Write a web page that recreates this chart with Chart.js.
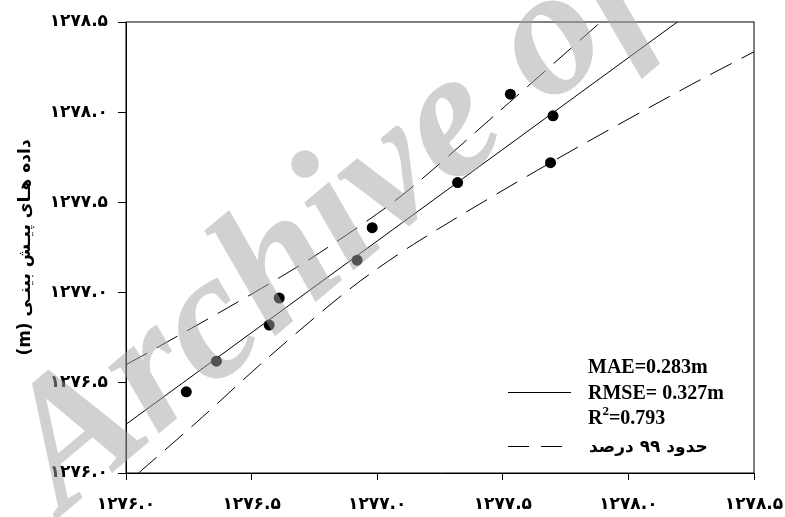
<!DOCTYPE html>
<html>
<head>
<meta charset="utf-8">
<script src="https://cdn.jsdelivr.net/npm/chart.js@4/dist/chart.umd.min.js"></script>
<style>
  html, body { margin: 0; padding: 0; background: #fff; }
</style>
</head>
<body>
<canvas id="fitChart" width="785" height="517" dir="rtl"></canvas>
<script>
// observed vs predicted values (m)
const observed  = [1276.24, 1276.36, 1276.57, 1276.61, 1276.92, 1276.98, 1277.32, 1277.53, 1277.70, 1277.69];
const predicted = [1276.45, 1276.62, 1276.82, 1276.97, 1277.18, 1277.36, 1277.61, 1278.10, 1277.98, 1277.72];

// regression line
const fitX = [1276.0, 1278.5];
const fitY = [1276.27, 1278.81];

// 99% band
const upperX = [1276.0, 1276.13, 1276.51, 1276.77, 1277.09, 1277.49, 1277.89];
const upperY = [1276.60, 1276.70, 1277.00, 1277.22, 1277.53, 1278.01, 1278.50];
const lowerX = [1276.05, 1276.28, 1276.57, 1276.90, 1277.17, 1277.69, 1278.22, 1278.5];
const lowerY = [1276.0, 1276.28, 1276.645, 1277.03, 1277.29, 1277.72, 1278.13, 1278.335];

const statLines = ['MAE=0.283m', 'RMSE= 0.327m', '=0.793'];
const bandLabel = 'حدود ۹۹ درصد';
const yTitle = 'داده هـای پیـش بینـی (m)';

const pairs = (xs, ys) => xs.map((x, i) => ({ x: x, y: ys[i] }));

const faDigits = '۰۱۲۳۴۵۶۷۸۹';
function toPersian(v) {
    return v.toFixed(1).replace(/[0-9]/g, d => faDigits[+d]);
}

const frameAndLegend = {
    id: 'frameAndLegend',
    afterDraw(chart) {
        const ctx = chart.ctx;
        const a = chart.chartArea;
        ctx.save();
        ctx.strokeStyle = '#000';
        ctx.lineWidth = 1;
        ctx.strokeRect(a.left, a.top, a.right - a.left, a.bottom - a.top);

        // legend block
        ctx.direction = 'ltr';
        ctx.fillStyle = '#000';
        ctx.textAlign = 'left';
        ctx.textBaseline = 'alphabetic';
        ctx.font = 'bold 20px "Liberation Serif"';
        ctx.fillText(statLines[0], 588, 373);
        ctx.fillText(statLines[1], 588, 399);
        ctx.fillText('R', 588, 424);
        const rw = ctx.measureText('R').width;
        ctx.font = 'bold 13px "Liberation Serif"';
        ctx.fillText('2', 588 + rw, 415);
        const sw = ctx.measureText('2').width;
        ctx.font = 'bold 20px "Liberation Serif"';
        ctx.fillText(statLines[2], 588 + rw + sw, 424);

        ctx.beginPath();
        ctx.moveTo(508, 392.5);
        ctx.lineTo(571, 392.5);
        ctx.stroke();
        ctx.setLineDash([21, 12]);
        ctx.beginPath();
        ctx.moveTo(508, 446.5);
        ctx.lineTo(571, 446.5);
        ctx.stroke();
        ctx.setLineDash([]);

        ctx.direction = 'rtl';
        ctx.textAlign = 'left';
        ctx.font = 'bold 17px "DejaVu Sans"';
        ctx.fillText(bandLabel, 589, 452);

        // watermark
        ctx.direction = 'ltr';
        ctx.translate(63, 514);
        ctx.rotate(-40 * Math.PI / 180);
        ctx.font = 'bold italic 182px "Liberation Serif"';
        ctx.fillStyle = 'rgba(164,164,164,0.5)';
        ctx.fillText('Archive of SID', 0, 0);
        ctx.restore();
    }
};

const tickFont = { family: 'DejaVu Sans', weight: 'bold', size: 17 };

new Chart(document.getElementById('fitChart').getContext('2d'), {
    type: 'scatter',
    data: {
        datasets: [{
            label: 'points',
            data: pairs(observed, predicted),
            backgroundColor: '#000',
            borderWidth: 0,
            pointRadius: 5.5
        }, {
            label: 'fit',
            type: 'line',
            data: pairs(fitX, fitY),
            borderColor: '#000',
            borderWidth: 1,
            pointRadius: 0
        }, {
            label: 'upper',
            type: 'line',
            data: pairs(upperX, upperY),
            borderColor: '#000',
            borderWidth: 1,
            borderDash: [24, 11],
            tension: 0.3,
            pointRadius: 0
        }, {
            label: 'lower',
            type: 'line',
            data: pairs(lowerX, lowerY),
            borderColor: '#000',
            borderWidth: 1,
            borderDash: [24, 11],
            tension: 0.3,
            pointRadius: 0
        }]
    },
    options: {
        responsive: false,
        animation: false,
        layout: { padding: { top: 22, right: 31, left: 0, bottom: 0 } },
        plugins: { legend: { display: false }, tooltip: { enabled: false } },
        scales: {
            x: {
                type: 'linear',
                min: 1276,
                max: 1278.5,
                afterFit: s => { s.height = 44; s.paddingLeft = 0; s.paddingRight = 0; },
                border: { color: '#000', width: 1 },
                grid: { drawOnChartArea: false, tickLength: 7, color: '#000' },
                ticks: { stepSize: 0.5, color: '#000', font: tickFont, padding: 14, maxRotation: 0, callback: v => toPersian(v) }
            },
            y: {
                type: 'linear',
                min: 1276,
                max: 1278.5,
                afterFit: s => { s.width = 126; s.paddingTop = 0; s.paddingBottom = 0; },
                border: { color: '#000', width: 1 },
                grid: { drawOnChartArea: false, tickLength: 8, color: '#000' },
                ticks: { stepSize: 0.5, color: '#000', font: tickFont, padding: 10, callback: v => toPersian(v) },
                title: {
                    display: true,
                    text: yTitle,
                    color: '#000',
                    font: { family: 'DejaVu Sans', weight: 'bold', size: 17 },
                    padding: { top: 15, bottom: 0 }
                }
            }
        }
    },
    plugins: [frameAndLegend]
});
</script>
</body>
</html>
